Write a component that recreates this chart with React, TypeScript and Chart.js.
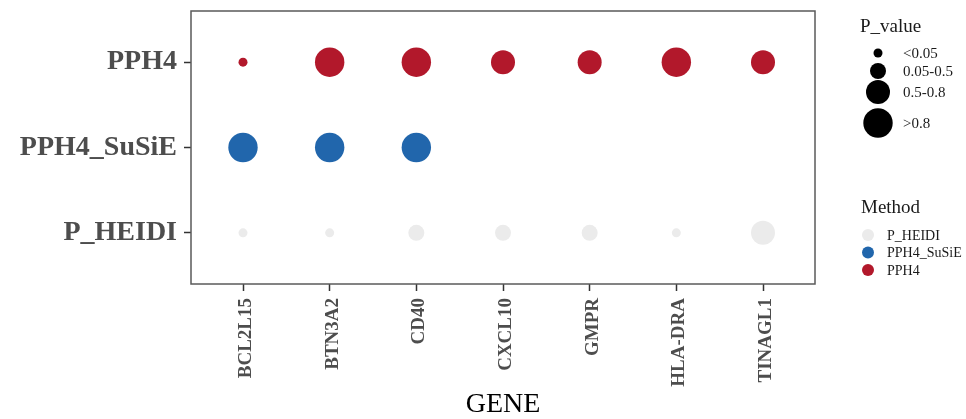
import React, { useEffect, useRef } from 'react';
import { Chart, registerables } from 'chart.js';

Chart.register(...registerables);

// ---- data ----
const GENES = ['BCL2L15', 'BTN3A2', 'CD40', 'CXCL10', 'GMPR', 'HLA-DRA', 'TINAGL1'];
const METHODS = ['P_HEIDI', 'PPH4_SuSiE', 'PPH4']; // bottom to top
const PVALUE_LEVELS = ['<0.05', '0.05-0.5', '0.5-0.8', '>0.8'];
const LEVEL_RADII = [4.5, 8, 12, 14.7];
const METHOD_COLORS = ['#EBEBEB', '#2166AC', '#B2182B'];

const P_HEIDI_LEVEL = ['<0.05', '<0.05', '0.05-0.5', '0.05-0.5', '0.05-0.5', '<0.05', '0.5-0.8'];
const PPH4_SUSIE_LEVEL = ['>0.8', '>0.8', '>0.8', null, null, null, null];
const PPH4_LEVEL = ['<0.05', '>0.8', '>0.8', '0.5-0.8', '0.5-0.8', '>0.8', '0.5-0.8'];
const SERIES: (string | null)[][] = [P_HEIDI_LEVEL, PPH4_SUSIE_LEVEL, PPH4_LEVEL];

const X_TITLE = 'GENE';
const SIZE_TITLE = 'P_value';
const COLOR_TITLE = 'Method';

const SERIF = '"Liberation Serif", "Times New Roman", serif';

const borderPlugin = {
  id: 'panelBorder',
  afterDatasetsDraw(chart: any) {
    const { ctx, chartArea } = chart;
    ctx.save();
    ctx.strokeStyle = '#5a5a5a';
    ctx.lineWidth = 1.5;
    ctx.strokeRect(chartArea.left, chartArea.top, chartArea.right - chartArea.left, chartArea.bottom - chartArea.top);
    ctx.restore();
  },
};

const legendPlugin = {
  id: 'ggLegend',
  afterDraw(chart: any) {
    const ctx = chart.ctx;
    ctx.save();
    ctx.textBaseline = 'middle';
    ctx.textAlign = 'left';
    ctx.fillStyle = '#1a1a1a';
    ctx.font = `19px ${SERIF}`;
    ctx.fillText(SIZE_TITLE, 860, 27);
    const sizeY = [53, 71, 92, 123];
    PVALUE_LEVELS.forEach((lvl, i) => {
      ctx.beginPath();
      ctx.fillStyle = '#000000';
      ctx.arc(878, sizeY[i], LEVEL_RADII[i], 0, Math.PI * 2);
      ctx.fill();
      ctx.fillStyle = '#1a1a1a';
      ctx.font = `15px ${SERIF}`;
      ctx.fillText(lvl, 903, sizeY[i] + 1);
    });
    ctx.font = `19px ${SERIF}`;
    ctx.fillText(COLOR_TITLE, 861, 208);
    METHODS.forEach((m, i) => {
      const y = 235 + 17.5 * i;
      ctx.beginPath();
      ctx.fillStyle = METHOD_COLORS[i];
      ctx.arc(868, y, 6, 0, Math.PI * 2);
      ctx.fill();
      ctx.fillStyle = '#1a1a1a';
      ctx.font = `14px ${SERIF}`;
      ctx.fillText(m, 887, y + 1);
    });
    ctx.restore();
  },
};

export default function App() {
  const canvasRef = useRef<HTMLCanvasElement | null>(null);

  useEffect(() => {
    if (!canvasRef.current) return;
    const datasets = METHODS.map((m, mi) => ({
      label: m,
      data: SERIES[mi]
        .map((lvl, gi) =>
          lvl ? { x: gi, y: mi, r: LEVEL_RADII[PVALUE_LEVELS.indexOf(lvl)] } : null
        )
        .filter((d) => d !== null),
      backgroundColor: METHOD_COLORS[mi],
      borderWidth: 0,
      hoverRadius: 0,
    }));

    const chart = new Chart(canvasRef.current, {
      type: 'bubble',
      data: { datasets: datasets as any },
      options: {
        animation: false,
        responsive: false,
        layout: { autoPadding: false, padding: { top: 11, right: 151, left: 0, bottom: 0 } },
        plugins: { legend: { display: false }, tooltip: { enabled: false } },
        scales: {
          x: {
            type: 'linear',
            min: -0.6,
            max: GENES.length - 1 + 0.6,
            afterBuildTicks: (scale: any) => {
              scale.ticks = GENES.map((_, i) => ({ value: i }));
            },
            afterFit: (scale: any) => {
              scale.height = 135;
              scale.paddingLeft = 0;
              scale.paddingRight = 0;
            },
            grid: { drawOnChartArea: false, tickLength: 7, tickColor: '#333333', tickWidth: 1.5 },
            border: { display: false },
            ticks: {
              autoSkip: false,
              minRotation: 90,
              maxRotation: 90,
              padding: 7,
              labelOffset: 3,
              color: '#4d4d4d',
              font: { family: SERIF, size: 19, weight: 'bold' },
              callback: (v: any) => GENES[v as number],
            },
            title: {
              display: true,
              text: X_TITLE,
              color: '#000000',
              padding: { top: 0, bottom: 0 },
              font: { family: SERIF, size: 28, weight: 'normal', lineHeight: 1 },
            },
          },
          y: {
            type: 'linear',
            min: -0.6,
            max: METHODS.length - 1 + 0.6,
            afterBuildTicks: (scale: any) => {
              scale.ticks = METHODS.map((_, i) => ({ value: i }));
            },
            afterFit: (scale: any) => {
              scale.width = 191;
              scale.paddingTop = 0;
              scale.paddingBottom = 0;
            },
            grid: { drawOnChartArea: false, tickLength: 7, tickColor: '#333333', tickWidth: 1.5 },
            border: { display: false },
            ticks: {
              autoSkip: false,
              padding: 7,
              color: '#4d4d4d',
              font: { family: SERIF, size: 28, weight: 'bold' },
              callback: (v: any) => METHODS[v as number],
            },
          },
        },
      },
      plugins: [borderPlugin, legendPlugin],
    });
    return () => chart.destroy();
  }, []);

  return (
    <div style={{ position: 'fixed', left: 0, top: 0, width: 966, height: 419, background: '#ffffff' }}>
      <canvas ref={canvasRef} width={966} height={419} style={{ display: 'block', width: 966, height: 419 }} />
    </div>
  );
}
